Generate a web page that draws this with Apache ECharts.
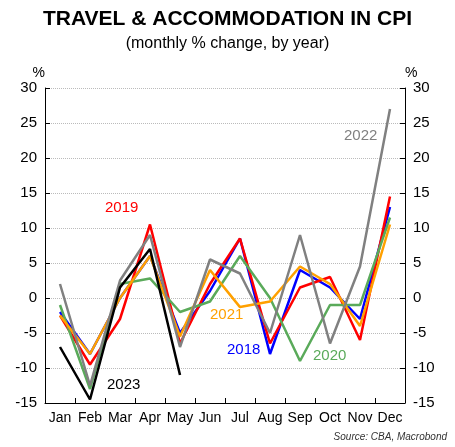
<!DOCTYPE html><html><head><meta charset="utf-8"><script src="https://cdn.jsdelivr.net/npm/echarts@6/dist/echarts.min.js"></script>
<style>body{margin:0;background:#fff}#c{width:455px;height:447px}</style></head><body><div id="c"></div><script>
const months=['Jan','Feb','Mar','Apr','May','Jun','Jul','Aug','Sep','Oct','Nov','Dec'];
const y2018=[-2,-8,0,6,-5,1,8.5,-8,4,1.5,-3,13];
const y2019=[-2.5,-9.5,-3,10.5,-6.5,2,8.5,-6.5,1.5,3,-6,14.5];
const y2020=[-1,-13,2,2.8,-2,-0.5,6,0,-9,-1,-1,11.5];
const y2021=[-2.5,-8,0,6,-5.5,4,-1.3,-0.5,4.5,2,-4,10.5];
const y2022=[2,-12.5,2.5,9,-7,5.5,3.5,-5,9,-6.5,4.5,27];
const y2023=[-7,-14.5,1.5,7,-11];
const F='Liberation Sans, Arial, sans-serif';
const yAx=(pos)=>({type:'value',position:pos,min:-15,max:30,interval:5,name:'%',nameGap:8,
 nameTextStyle:{color:'#000',fontSize:14,fontFamily:F,align:pos==='left'?'right':'left'},
 axisLine:{show:true,lineStyle:{color:'#000'}},axisTick:{show:true,inside:true,length:5,lineStyle:{color:'#000'}},
 axisLabel:{color:'#000',fontSize:15,fontFamily:F},
 splitLine:{show:pos==='left',lineStyle:{color:'#bbb',type:'dotted'}}});
const s=(n,d,c)=>({name:n,type:'line',data:d,symbol:'none',lineStyle:{color:c,width:2.5},itemStyle:{color:c},z:n==='2023'?10:2});
const lbl=(t,x,y,c)=>({type:'text',left:x,top:y,style:{text:t,fill:c,font:'15px '+F}});
echarts.init(document.getElementById('c')).setOption({
 animation:false,
 title:{text:'TRAVEL & ACCOMMODATION IN CPI',subtext:'(monthly % change, by year)',left:'center',top:4,itemGap:6,
  textStyle:{fontSize:21,fontWeight:'bold',color:'#000',fontFamily:F},subtextStyle:{fontSize:16,color:'#000',fontFamily:F}},
 grid:{left:45,right:50,top:88,bottom:44},
 xAxis:{type:'category',data:months,boundaryGap:true,axisLine:{onZero:false,lineStyle:{color:'#000'}},
  axisTick:{show:true,inside:true,length:5,lineStyle:{color:'#000'}},axisLabel:{color:'#000',fontSize:14,fontFamily:F,interval:0}},
 yAxis:[yAx('left'),yAx('right')],
 series:[s('2018',y2018,'#0000ff'),s('2019',y2019,'#ff0000'),s('2020',y2020,'#5aaa5a'),s('2021',y2021,'#ffa000'),s('2022',y2022,'#808080'),s('2023',y2023,'#000')],
 graphic:[lbl('2019',105,200,'#ff0000'),lbl('2021',210,307,'#ffa000'),lbl('2018',227,342,'#0000ff'),
  lbl('2020',313,348,'#5aaa5a'),lbl('2022',344,128,'#808080'),lbl('2023',107,377,'#000'),
  {type:'text',right:8,top:432,style:{text:'Source: CBA, Macrobond',fill:'#333',font:'italic 10px '+F}}]
});
</script></body></html>
